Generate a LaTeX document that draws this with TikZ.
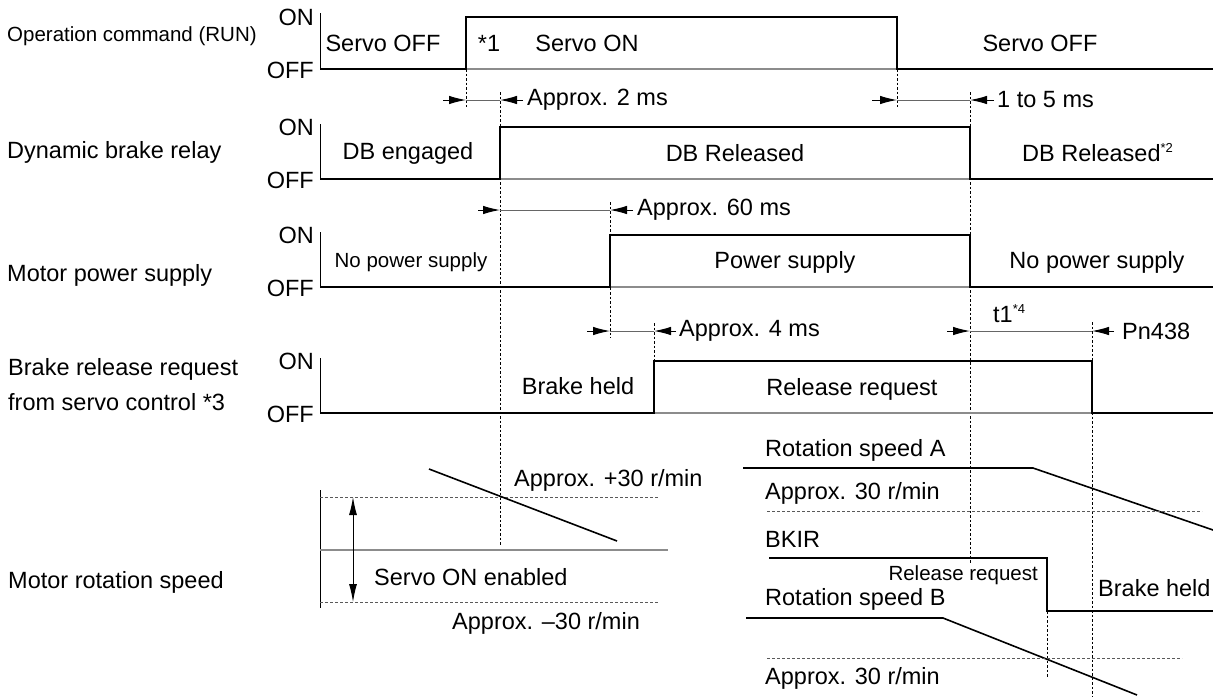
\documentclass[tikz,border=0pt]{standalone}
\usepackage{fontspec}
\setmainfont{Liberation Sans}
\usetikzlibrary{arrows.meta}
\newcommand{\supr}[1]{\raisebox{9pt}{\fontsize{13}{14}\selectfont #1}}
\begin{document}
\begin{tikzpicture}[x=1pt,y=-1pt,
  sig/.style={line width=2pt},
  base/.style={line width=1.1pt, black!45},
  ax/.style={line width=1pt},
  vdash/.style={line width=0.8pt, dash pattern=on 2.5pt off 2pt},
  hdot/.style={line width=0.9pt, black!65, dash pattern=on 2.5pt off 2.5pt},
  dimline/.style={line width=1pt, black!60},
  arr/.style={line width=1pt, -{Latex[length=17pt,width=8.5pt]}},
  darr/.style={line width=1pt, {Latex[length=18pt,width=8pt]}-{Latex[length=18pt,width=8pt]}},
  slope/.style={line width=1.6pt},
  txt/.style={inner sep=0pt, font=\fontsize{23.5}{28}\selectfont},
  lbl/.style={txt, anchor=west},
  sm/.style={inner sep=0pt, font=\fontsize{20.5}{24}\selectfont},
  onoff/.style={txt, anchor=east},
]
\useasboundingbox (0,0) rectangle (1213,697);

% ---------- Row 1 ----------
\node[sm, anchor=west] (l1) at (7,36) {Operation command (RUN)};
\node[onoff] (on1) at (314,17) {ON};
\node[onoff] (off1) at (314,70) {OFF};
\draw[ax] (320,13) -- (320,69);
\draw[base] (320,69) -- (1213,69);
\draw[sig] (320,69) -- (466,69) -- (466,17) -- (897,17) -- (897,69) -- (1213,69);
\node[txt] (t1a) at (383,43) {Servo OFF};
\node[txt] (t1b) at (489,43) {*1};
\node[txt] (t1c) at (587,43) {Servo ON};
\node[txt] (t1d) at (1040,43) {Servo OFF};

% ---------- dashed verticals ----------
\draw[vdash] (466,69) -- (466,107);
\draw[vdash] (897,69) -- (897,107);
\draw[vdash] (500,92) -- (500,545);
\draw[vdash] (970,92) -- (970,563);
\draw[vdash] (610,202) -- (610,338);
\draw[vdash] (654,323) -- (654,361);
\draw[vdash] (1092,322) -- (1092,697);
\draw[vdash] (1047,611) -- (1047,677);

% ---------- timing arrows row 1 ----------
\coordinate (a1) at (466,100); \coordinate (b1) at (500,100);
\draw[arr] (443,100) -- (a1);
\draw[dimline] (a1) -- (b1);
\draw[arr] (523,100) -- (b1);
\node[lbl] (d1) at (527,100) {Approx. 2 ms};
\coordinate (a2) at (897,100); \coordinate (b2) at (970,100);
\draw[arr] (872,100) -- (a2);
\draw[dimline] (a2) -- (b2);
\draw[arr] (994,100) -- (b2);
\node[lbl] (d2) at (997,100) {1 to 5 ms};

% ---------- Row 2 ----------
\node[lbl] (l2) at (7,152) {Dynamic brake relay};
\node[onoff] (on2) at (314,127) {ON};
\node[onoff] (off2) at (314,180) {OFF};
\draw[ax] (320,124) -- (320,179);
\draw[base] (320,179) -- (1213,179);
\draw[sig] (320,179) -- (500,179) -- (500,127) -- (970,127) -- (970,179) -- (1213,179);
\node[txt] (t2a) at (408,153) {DB engaged};
\node[txt] (t2b) at (735,153) {DB Released};
\node[lbl] (t2c) at (1022,153) {DB Released\supr{*2}};

% ---------- timing arrows row 2 ----------
\coordinate (a3) at (500,210); \coordinate (b3) at (610,210);
\draw[arr] (478,210) -- (a3);
\draw[dimline] (a3) -- (b3);
\draw[arr] (633,210) -- (b3);
\node[lbl] (d3) at (637,210) {Approx. 60 ms};

% ---------- Row 3 ----------
\node[lbl] (l3) at (7,275) {Motor power supply};
\node[onoff] (on3) at (314,235) {ON};
\node[onoff] (off3) at (314,288) {OFF};
\draw[ax] (320,232) -- (320,287);
\draw[base] (320,287) -- (1213,287);
\draw[sig] (320,287) -- (610,287) -- (610,235) -- (970,235) -- (970,287) -- (1213,287);
\node[sm] (t3a) at (411,262) {No power supply};
\node[txt] (t3b) at (785,262) {Power supply};
\node[txt] (t3c) at (1097,262) {No power supply};

% ---------- timing arrows row 3 ----------
\coordinate (a4) at (610,331); \coordinate (b4) at (654,331);
\draw[arr] (587,331) -- (a4);
\draw[dimline] (a4) -- (b4);
\draw[arr] (676,331) -- (b4);
\node[lbl] (d4) at (679,331) {Approx. 4 ms};
\coordinate (a5) at (970,331); \coordinate (b5) at (1092,331);
\draw[arr] (947,331) -- (a5);
\draw[dimline] (a5) -- (b5);
\draw[arr] (1114,331) -- (b5);
\node[lbl] (d5) at (1122,331) {Pn438};
\node[lbl] (d6) at (993,314) {t1\supr{*4}};

% ---------- Row 4 ----------
\node[lbl] (l4a) at (8,369) {Brake release request};
\node[lbl] (l4b) at (8,402) {from servo control *3};
\node[onoff] (on4) at (314,361) {ON};
\node[onoff] (off4) at (314,414) {OFF};
\draw[ax] (320,358) -- (320,413);
\draw[base] (320,413) -- (1213,413);
\draw[sig] (320,413) -- (654,413) -- (654,361) -- (1092,361) -- (1092,413) -- (1213,413);
\node[txt] (t4a) at (578,386) {Brake held};
\node[txt] (t4b) at (852,389) {Release request};

% ---------- Row 5: motor rotation speed ----------
\node[lbl] (l5) at (8,582) {Motor rotation speed};
% left chart
\draw[ax] (320,490) -- (320,608);
\draw[hdot] (320,497) -- (658,497);
\draw[base] (320,550) -- (668,550);
\draw[hdot] (320,602) -- (658,602);
\coordinate (up) at (353,497); \coordinate (dn) at (353,602);
\draw[darr] (up) -- (dn);
\draw[slope] (429,469) -- (617,541);
\node[lbl] (s1) at (514,480) {Approx. +30 r/min};
\node[lbl] (s2) at (374,577) {Servo ON enabled};
\node[lbl] (s3) at (452,623) {Approx. –30 r/min};

% right chart
\node[lbl] (r1) at (765,450) {Rotation speed A};
\draw[slope] (743,468) -- (1033,468) -- (1213,530);
\node[lbl] (r2) at (765,493) {Approx. 30 r/min};
\draw[hdot] (767,511) -- (1202,511);
\node[lbl] (r3) at (765,539) {BKIR};
\draw[sig] (769,558) -- (1047,558) -- (1047,611) -- (1213,611);
\node[sm, anchor=east] (r4) at (1038,575) {Release request};
\node[lbl] (r5) at (765,599) {Rotation speed B};
\node[lbl] (r6) at (1098,588) {Brake held};
\draw[slope] (746,618) -- (943,618) -- (1137,695);
\draw[hdot] (767,658) -- (1182,658);
\node[lbl] (r7) at (765,678) {Approx. 30 r/min};
\end{tikzpicture}
\end{document}
